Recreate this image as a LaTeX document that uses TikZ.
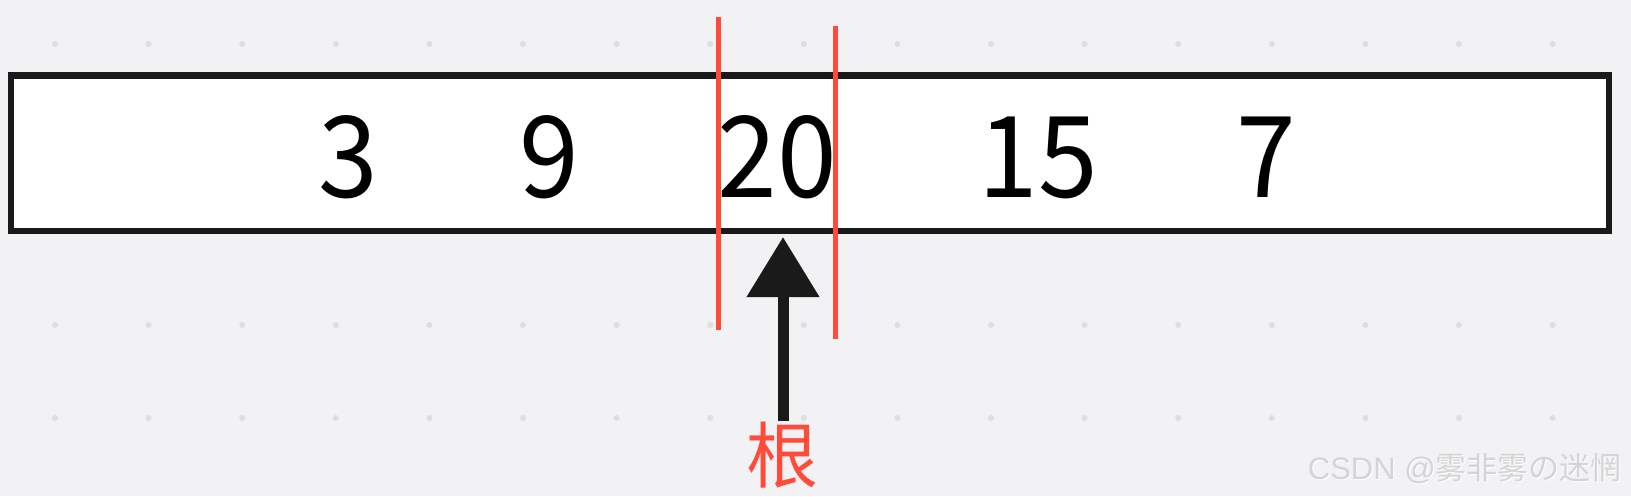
\documentclass[tikz,border=0pt]{standalone}
\usepackage{fontspec}
\setmainfont{Noto Sans CJK SC}
\newfontfamily\cjkfont{Noto Sans CJK SC}
\newfontfamily\numfont[FakeStretch=0.95]{Noto Sans CJK SC}
\newfontfamily\wmfont{Liberation Sans}
\usetikzlibrary{arrows.meta}
\definecolor{bgc}{RGB}{242,242,244}
\definecolor{dotc}{RGB}{222,222,225}
\definecolor{boxc}{RGB}{26,26,26}
\definecolor{redc}{RGB}{255,75,58}
\definecolor{wmc}{RGB}{212,212,214}
\tikzset{
  dotmark/.style={fill=dotc, draw=none},
  numtext/.style={anchor=base, inner sep=0pt, font=\numfont\fontsize{113}{113}\selectfont, text=black},
  redline/.style={draw=redc, line width=5pt},
  rootarrow/.style={draw=boxc, line width=11pt, -{Triangle[width=70pt,length=60pt]}},
}
\begin{document}
\begin{tikzpicture}[x=1pt,y=-1pt]
  \fill[bgc] (0,0) rectangle (1631,496);
  \useasboundingbox (0,0) rectangle (1631,496);
  % dot grid
  \foreach \k in {0,...,16}{
    \foreach \yy in {44,325,418}{
      \fill[dotmark] ({55+93.6*\k},\yy) circle (3pt);
    }
  }
  % array box
  \node[draw=boxc, fill=white, line width=6.5pt, outer sep=0pt, minimum width=1598pt, minimum height=155.5pt, inner sep=0pt, anchor=north west] (arr) at (11,75.5) {};
  % numbers
  \node[numtext] (n3) at (348,197) {3};
  \node[numtext] (n9) at (549,197) {9};
  \node[numtext] (n20) at (777,197) {20};
  \node[numtext] (n15) at (1038,197) {15};
  \node[numtext] (n7) at (1266,197) {7};
  % red boundary lines
  \coordinate (l1a) at (718,17);
  \coordinate (l1b) at (718,330);
  \coordinate (l2a) at (835,26);
  \coordinate (l2b) at (835,339);
  \draw[redline] (l1a) -- (l1b);
  \draw[redline] (l2a) -- (l2b);
  % root label and arrow
  \node[anchor=base, inner sep=0pt, font=\cjkfont\fontsize{72}{72}\selectfont, text=redc] (root) at (782,482) {根};
  \coordinate (atail) at (783,421);
  \coordinate (ahead) at (783,237);
  \draw[rootarrow] (atail) -- (ahead);
  % watermark
  \node[anchor=base east, inner sep=0pt, text=white, font=\fontsize{31}{31}\selectfont] at (1623,480) {\wmfont CSDN @\cjkfont 雾非雾の迷惘};
  \node[anchor=base east, inner sep=0pt, text=wmc, font=\fontsize{31}{31}\selectfont] (wm) at (1622,479) {\wmfont CSDN @\cjkfont 雾非雾の迷惘};
\end{tikzpicture}
\end{document}
